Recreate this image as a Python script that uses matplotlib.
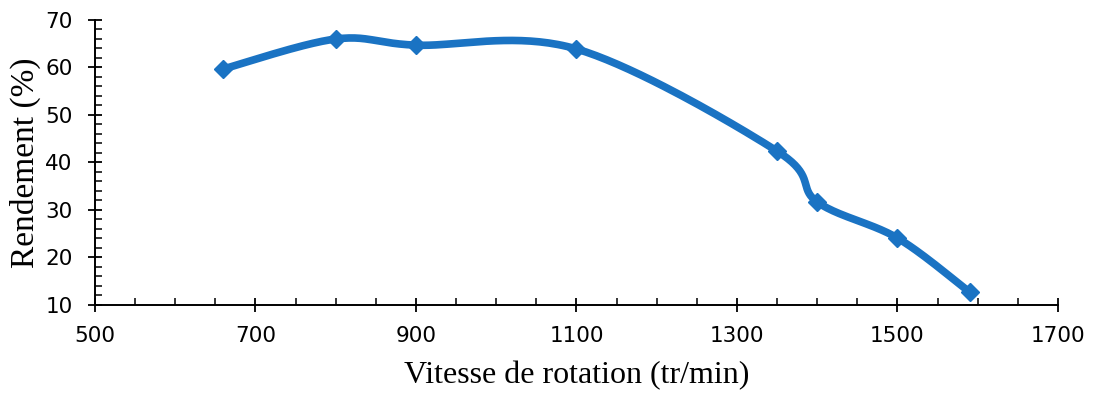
import numpy as np
import matplotlib
matplotlib.use('Agg')
import matplotlib.pyplot as plt
from matplotlib.ticker import MultipleLocator, FixedLocator

# Data
vitesse = [660, 800, 900, 1100, 1350, 1400, 1500, 1590]
rendement = [59.7, 66.0, 64.7, 63.9, 42.4, 31.7, 24.1, 12.7]
x_ticks = [500, 700, 900, 1100, 1300, 1500, 1700]

blue = '#1a73c3'


def smooth_curve(x, y, n=40):
	# Excel-like smoothed line (Catmull-Rom through the points)
	x = np.asarray(x, float)
	y = np.asarray(y, float)
	px = np.concatenate([[x[0]], x, [x[-1]]])
	py = np.concatenate([[y[0]], y, [y[-1]]])
	xs, ys = [], []
	t = np.linspace(0, 1, n)
	for i in range(1, len(px) - 2):
		p0 = np.array([px[i], py[i]])
		p3 = np.array([px[i + 1], py[i + 1]])
		c1 = p0 + (np.array([px[i + 1], py[i + 1]]) - np.array([px[i - 1], py[i - 1]])) / 6
		c2 = p3 - (np.array([px[i + 2], py[i + 2]]) - np.array([px[i], py[i]])) / 6
		b = ((1 - t) ** 3)[:, None] * p0 + (3 * (1 - t) ** 2 * t)[:, None] * c1 \
			+ (3 * (1 - t) * t ** 2)[:, None] * c2 + (t ** 3)[:, None] * p3
		xs.extend(b[:, 0])
		ys.extend(b[:, 1])
	return xs, ys


fig = plt.figure(figsize=(10.98, 3.96), dpi=100)
ax = fig.add_axes([0.0865, 0.2298, 0.877, 0.7197])

sx, sy = smooth_curve(vitesse, rendement)
ax.plot(sx, sy, '-', color=blue, lw=5.5, solid_capstyle='round', zorder=3)
ax.plot(vitesse, rendement, 'D', color=blue, ms=9.5, zorder=4)

ax.set_xlim(500, 1700)
ax.set_ylim(10, 70)
ax.xaxis.set_major_locator(FixedLocator(x_ticks))
ax.xaxis.set_minor_locator(MultipleLocator(50))
ax.yaxis.set_major_locator(MultipleLocator(10))
ax.yaxis.set_minor_locator(MultipleLocator(2))

for s in ['top', 'right']:
	ax.spines[s].set_visible(False)
for s in ['left', 'bottom']:
	ax.spines[s].set_linewidth(1.4)

ax.tick_params(axis='x', which='major', direction='inout', length=10, width=1.3,
	labelsize=15.5, pad=10)
ax.tick_params(axis='x', which='minor', direction='in', length=5, width=1.1)
ax.tick_params(axis='y', which='major', direction='inout', length=10, width=1.3,
	labelsize=15.5, pad=11)
ax.tick_params(axis='y', which='minor', direction='in', length=5, width=1.1)

ax.set_xlabel('Vitesse de rotation (tr/min)', family='Liberation Serif', fontsize=23, labelpad=11)
ax.set_ylabel('Rendement (%)', family='Liberation Serif', fontsize=24, labelpad=3)

fig.savefig('out.png', dpi=100)
